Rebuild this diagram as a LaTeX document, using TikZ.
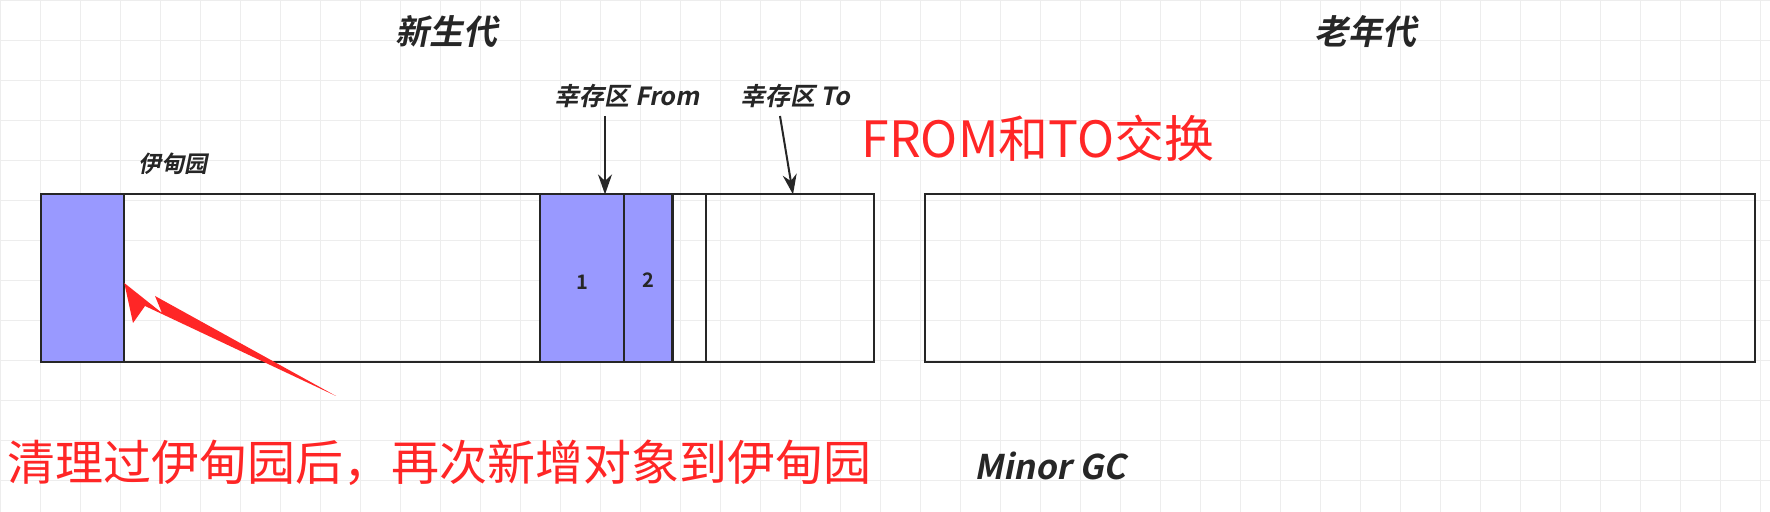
\documentclass[tikz,border=0pt]{standalone}
\usepackage{fontspec}
\setmainfont{Noto Sans CJK SC}
\newfontfamily\cjkb[FakeSlant=0.2]{Noto Sans CJK SC Bold}
\newfontfamily\cjkbu{Noto Sans CJK SC Bold}
\newfontfamily\cjkr{Noto Sans CJK SC}
\usetikzlibrary{arrows.meta}
\begin{document}
\begin{tikzpicture}[x=0.5pt,y=-0.5pt,
  lbl/.style={font=\cjkb, text=black!85, inner sep=0},
  blk/.style={draw=black!85, line width=1.1pt},
  bluef/.style={fill=blue!40!white},
  redtxt/.style={font=\cjkr, text=red!85!white, inner sep=0},
  darr/.style={draw=black!85, line width=1pt, -{Stealth[length=10pt,width=7pt]}}]
\useasboundingbox (0,0) rectangle (1770,512);
\fill[white] (0,0) rectangle (1770,512);
\foreach \i in {0,40,...,1760} \draw[black!7] (\i,0) -- (\i,512);
\foreach \j in {0,40,...,500} \draw[black!7] (0,\j) -- (1770,\j);
% regions
\path[blk,bluef] (40.7,194.4) rectangle (124.3,361.7);
\path[blk,bluef] (540,194.4) rectangle (624,361.7);
\path[blk,bluef] (624,194.4) rectangle (672.5,361.7);
\draw[blk] (706,194.4) -- (706,361.7);
\draw[blk] (40.7,194.4) rectangle (873.7,361.7);
\draw[blk] (924.6,194.4) rectangle (1755.3,361.7);
\coordinate (eden) at (124.3,283);
\coordinate (fromtop) at (605,194.4);
\coordinate (totop) at (793,194.4);
% labels
\node[lbl,font=\cjkb\fontsize{17pt}{19pt}\selectfont] (young) at (446,32) {新生代};
\node[lbl,font=\cjkb\fontsize{17pt}{19pt}\selectfont] (old) at (1365,32) {老年代};
\node[lbl,font=\cjkb\fontsize{12.5pt}{14pt}\selectfont] (from) at (627,96) {幸存区 From};
\node[lbl,font=\cjkb\fontsize{12.5pt}{14pt}\selectfont] (to) at (795,96) {幸存区 To};
\node[lbl,font=\cjkb\fontsize{11.5pt}{13pt}\selectfont] (edenl) at (173,164) {伊甸园};
\node[lbl,font=\cjkbu\fontsize{10pt}{12pt}\selectfont] (n1) at (582,282) {1};
\node[lbl,font=\cjkbu\fontsize{10pt}{12pt}\selectfont] (n2) at (648,280) {2};
\node[lbl,font=\cjkb\fontsize{17pt}{19pt}\selectfont] (gc) at (1050,466) {Minor GC};
\node[redtxt,font=\cjkr\fontsize{25pt}{28pt}\selectfont] (swap) at (1038,138) {FROM和TO交换};
\node[redtxt,font=\cjkr\fontsize{24pt}{27pt}\selectfont] (note) at (439,463) {清理过伊甸园后，再次新增对象到伊甸园};
% arrows
\coordinate (fa) at (605,116);
\coordinate (ta) at (780,116);
\draw[darr] (fa) -- (fromtop);
\draw[darr] (ta) -- (totop);
\coordinate (rs) at (336,396);
\fill[red!85!white] (rs) -- (155,296) -- (162,313) -- (eden) -- (133,323) -- (145,306) -- cycle;
\end{tikzpicture}
\end{document}
